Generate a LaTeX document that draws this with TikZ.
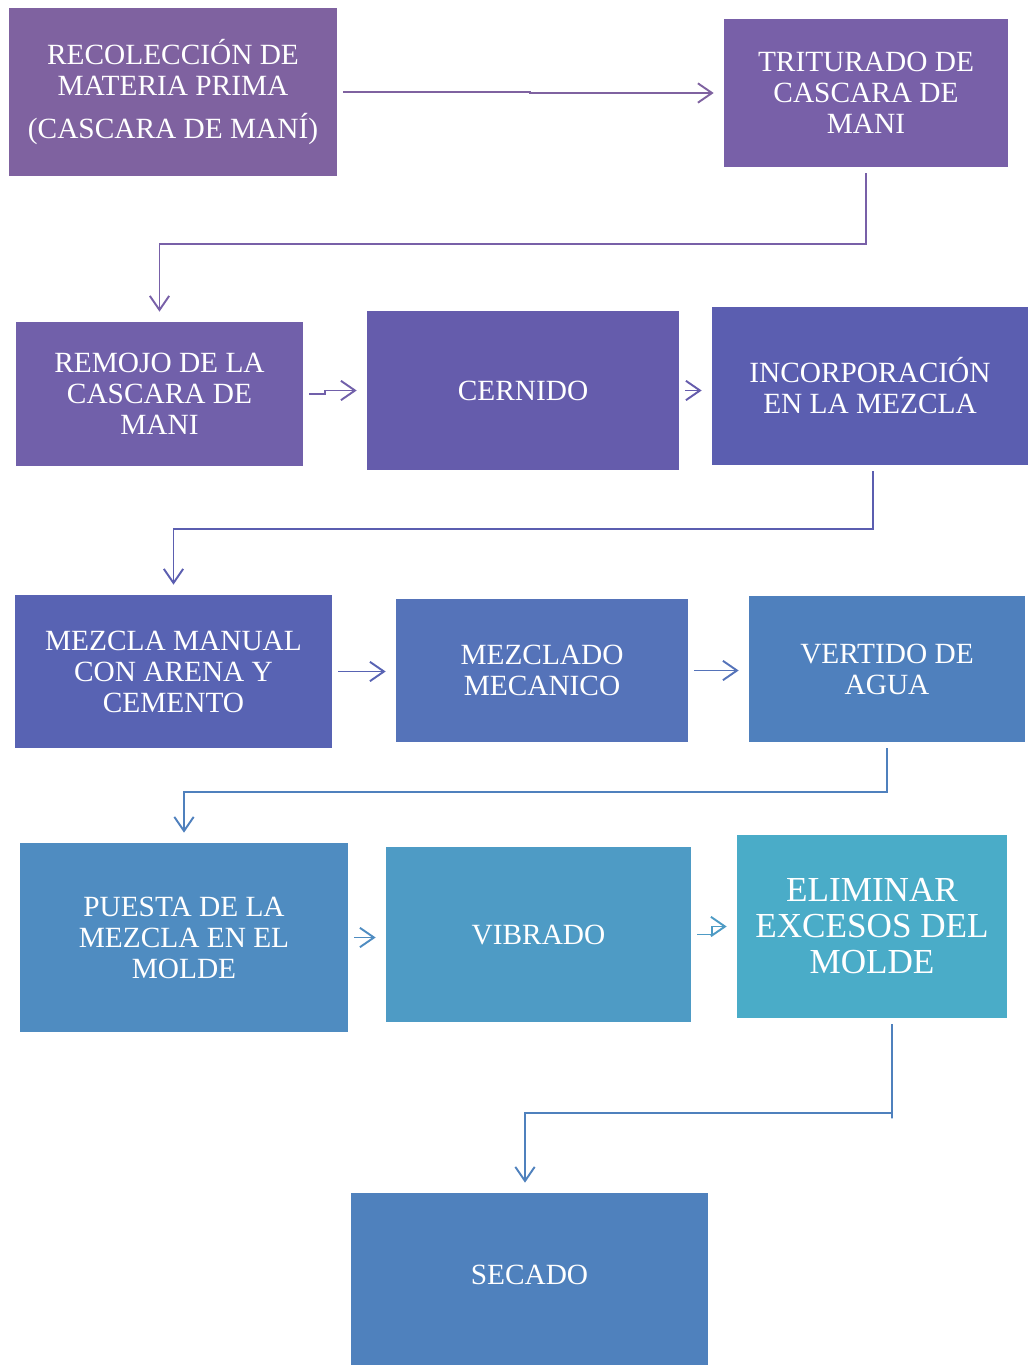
\documentclass[tikz,border=0pt]{standalone}
\usepackage{fontspec}
\setmainfont{Liberation Serif}
\usetikzlibrary{arrows.meta}
\definecolor{colrec}{HTML}{7F62A0}
\definecolor{coltrit}{HTML}{7860A8}
\definecolor{colrem}{HTML}{7160AA}
\definecolor{colcer}{HTML}{655CAC}
\definecolor{colinc}{HTML}{5B5EB0}
\definecolor{colmman}{HTML}{5863B3}
\definecolor{colmmec}{HTML}{5573B9}
\definecolor{colver}{HTML}{4F80BD}
\definecolor{colpue}{HTML}{4F8CC1}
\definecolor{colvib}{HTML}{4E9BC5}
\definecolor{colelim}{HTML}{4AACC8}
\definecolor{colsec}{HTML}{4F81BD}
\tikzstyle{procbox} = [rectangle, inner sep=2pt, text=white, align=center,
    font=\fontsize{16.7}{17.6}\selectfont]
\tikzstyle{flowarrow} = [line width=1.1pt, -{Straight Barb[length=8pt,width=11pt]},
    shorten <=0.12cm, shorten >=0.2cm]

\begin{document}
\begin{tikzpicture}[x=0.02cm, y=-0.02cm]
    \useasboundingbox (0,0) rectangle (1028,1365);
    % fila 1
    \node [procbox, fill=colrec, minimum width=6.56cm, minimum height=3.36cm] (rec) at (173,92)
        {RECOLECCIÓN DE\\MATERIA PRIMA\\[7pt](CASCARA DE MANÍ)};
    \node [procbox, fill=coltrit, minimum width=5.68cm, minimum height=2.96cm] (trit) at (866,93)
        {TRITURADO DE\\CASCARA DE\\MANI};
    % fila 2
    \node [procbox, fill=colrem, minimum width=5.74cm, minimum height=2.88cm] (rem) at (159.5,394)
        {REMOJO DE LA\\CASCARA DE\\MANI};
    \node [procbox, fill=colcer, minimum width=6.24cm, minimum height=3.18cm] (cer) at (523,390.5)
        {CERNIDO};
    \node [procbox, fill=colinc, minimum width=6.32cm, minimum height=3.16cm] (inc) at (870,386)
        {INCORPORACIÓN\\EN LA MEZCLA};
    % fila 3
    \node [procbox, fill=colmman, minimum width=6.34cm, minimum height=3.06cm] (mman) at (173.5,671.5)
        {MEZCLA MANUAL\\CON ARENA Y\\CEMENTO};
    \node [procbox, fill=colmmec, minimum width=5.84cm, minimum height=2.86cm] (mmec) at (542,670.5)
        {MEZCLADO\\MECANICO};
    \node [procbox, fill=colver, minimum width=5.52cm, minimum height=2.92cm] (ver) at (887,669)
        {VERTIDO DE\\AGUA};
    % fila 4
    \node [procbox, fill=colpue, minimum width=6.56cm, minimum height=3.78cm] (pue) at (184,937.5)
        {PUESTA DE LA\\MEZCLA EN EL\\MOLDE};
    \node [procbox, fill=colvib, minimum width=6.1cm, minimum height=3.5cm] (vib) at (538.5,934.5)
        {VIBRADO};
    \node [procbox, fill=colelim, minimum width=5.4cm, minimum height=3.66cm,
        font=\fontsize{20}{20.5}\selectfont] (elim) at (872,926.5)
        {ELIMINAR\\EXCESOS DEL\\MOLDE};
    % fila 5
    \node [procbox, fill=colsec, minimum width=7.14cm, minimum height=3.44cm] (sec) at (529.5,1279)
        {\raisebox{0.18cm}{SECADO}};

    % conectores
    \draw [flowarrow, colrec] (rec.east) -- ++(193,0) |- (trit.west);
    \draw [flowarrow, coltrit] (trit.south) -- ++(0,77) -| (rem.north);
    \draw [flowarrow, colrem] (rem.east) -- ++(22,0) |- (cer.west);
    \draw [flowarrow, colcer] (cer.east) -- (inc.west |- cer.east);
    \draw [flowarrow, colinc] ([xshift=0.06cm]inc.south) -- ++(0,64) -| (mman.north);
    \draw [flowarrow, colmman] (mman.east) -- (mmec.west |- mman.east);
    \draw [flowarrow, colmmec] (mmec.east) -- (ver.west |- mmec.east);
    \draw [flowarrow, colver] (ver.south) -- ++(0,50) -| (pue.north);
    \draw [flowarrow, colpue] (pue.east) -- (vib.west |- pue.east);
    \draw [flowarrow, colvib] (vib.east) -- ++(21,0) |- (elim.west);
    \draw [flowarrow, colsec] ([xshift=0.4cm]elim.south) -- ++(0,100) -- ++(0,-5)
        -| ([xshift=-0.09cm]sec.north);
\end{tikzpicture}
\end{document}
